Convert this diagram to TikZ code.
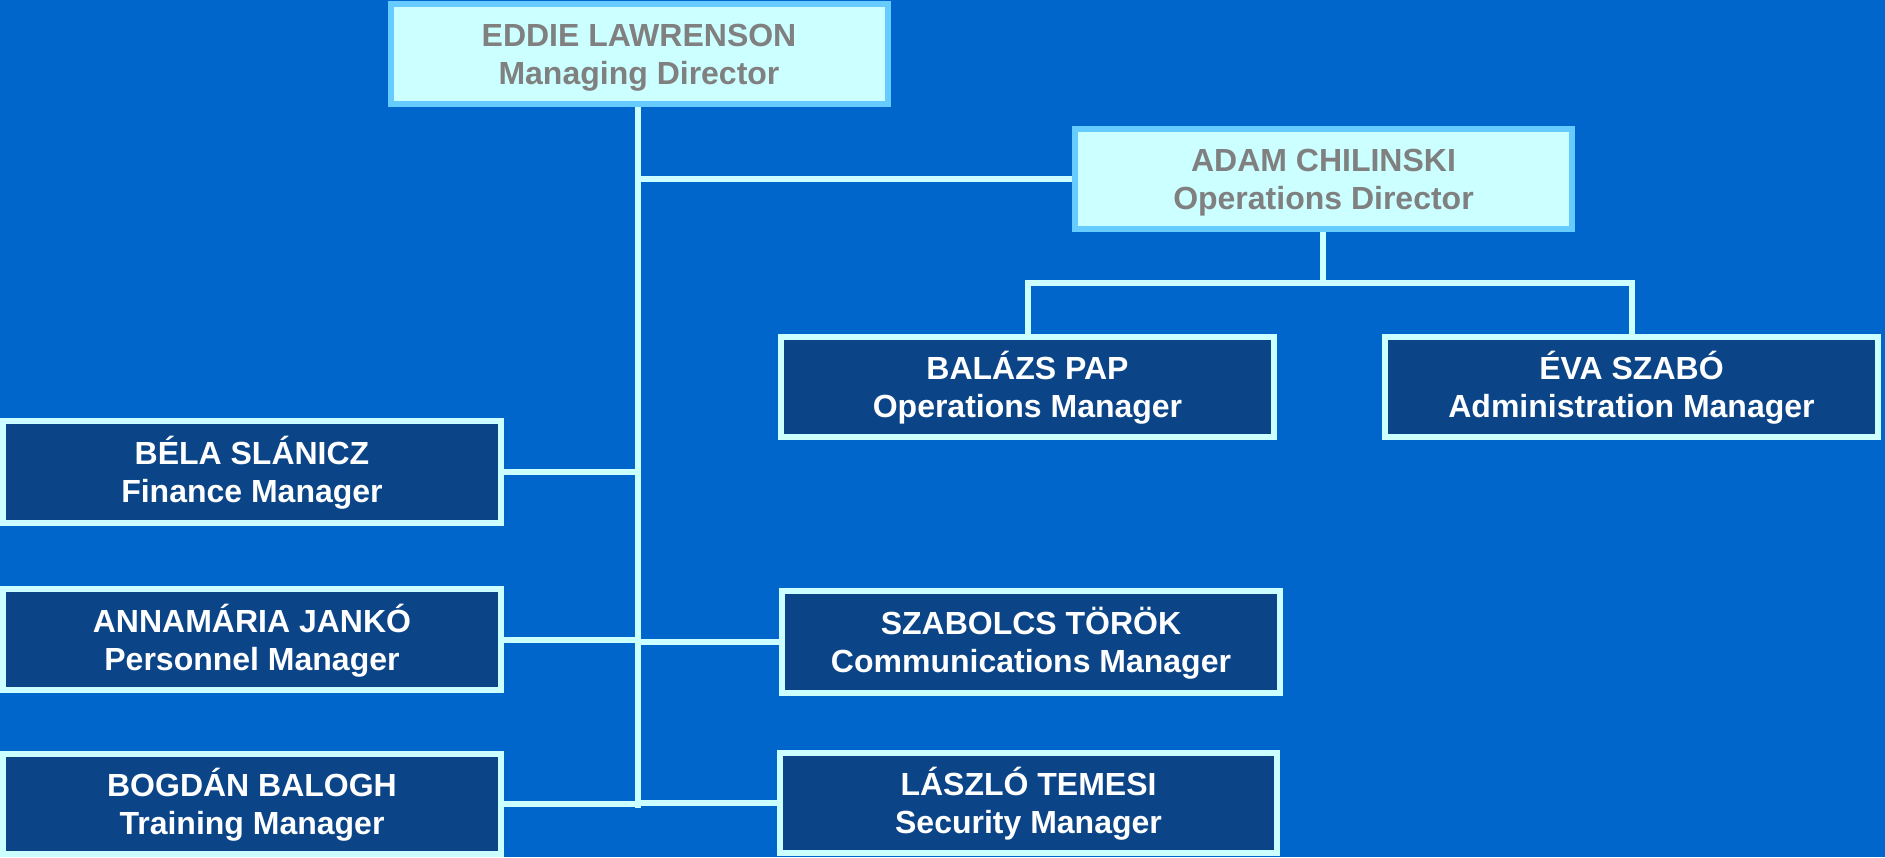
\documentclass[tikz,border=0pt]{standalone}
\usepackage{fontspec}
\setmainfont{Liberation Sans}
\usetikzlibrary{backgrounds}

\definecolor{pagebg}{RGB}{0,102,204}
\definecolor{navyfill}{RGB}{11,69,136}
\definecolor{paleaqua}{RGB}{204,255,255}
\definecolor{skyedge}{RGB}{102,204,255}
\definecolor{titlegray}{RGB}{128,128,128}

% two-line boxes: cap top of the first line to baseline of the second is centred
\tikzset{
  box/.style={rectangle, line width=6pt, align=center, inner sep=0pt,
    text height=61pt, text depth=0pt,
    font=\fontsize{32}{38}\selectfont\bfseries},
  director/.style={box, draw=skyedge, fill=paleaqua, text=titlegray,
    minimum width=497pt, minimum height=100pt},
  manager/.style={box, draw=paleaqua, fill=navyfill, text=white,
    minimum width=493pt, minimum height=100pt},
  link/.style={draw=paleaqua, line width=6pt, line cap=rect}
}

\begin{document}
\begin{tikzpicture}[x=1pt, y=-1pt]
\useasboundingbox (0,0) rectangle (1885,857);

% directors
\node[director] (eddie) at (639,53.5) {EDDIE LAWRENSON\\Managing Director};
\node[director] (adam) at (1323.5,179) {ADAM CHILINSKI\\Operations Director};

% managers under the operations director
\node[manager] (balazs) at (1027.5,386.5) {BALÁZS PAP\\Operations Manager};
\node[manager] (eva) at (1631.5,387) {ÉVA SZABÓ\\Administration Manager};

% managers on the left of the trunk
\node[manager, minimum width=498pt, minimum height=102pt] (bela) at (252,472) {BÉLA SLÁNICZ\\Finance Manager};
\node[manager, minimum width=498pt, minimum height=101pt] (anna) at (252,639.5) {ANNAMÁRIA JANKÓ\\Personnel Manager};
\node[manager, minimum width=498pt, minimum height=100pt] (bogdan) at (252,804) {BOGDÁN BALOGH\\Training Manager};

% managers on the right of the trunk
\node[manager, minimum width=498pt, minimum height=102pt] (szabolcs) at (1031,642) {SZABOLCS TÖRÖK\\Communications Manager};
\node[manager, minimum width=497pt, minimum height=100pt] (laszlo) at (1028.5,803) {LÁSZLÓ TEMESI\\Security Manager};

\coordinate (trunkend) at (638,805);
\coordinate (opsbus) at (1323,283);

\begin{scope}[on background layer]
  \fill[pagebg] (0,0) rectangle (1885,857);
  % main trunk
  \draw[link] (eddie.south -| trunkend) -- (trunkend);
  \draw[link] (adam.west) -- (adam.west -| trunkend);
  \draw[link] (bela.east) -- (bela.east -| trunkend);
  \draw[link] (anna.east) -- (anna.east -| trunkend);
  \draw[link] (bogdan.east) -- (bogdan.east -| trunkend);
  \draw[link] (szabolcs.west) -- (szabolcs.west -| trunkend);
  \draw[link] (laszlo.west) -- (laszlo.west -| trunkend);
  % operations branch
  \draw[link] (adam.south -| opsbus) -- (opsbus);
  \draw[link] (balazs.north) |- (opsbus) -| (eva.north);
\end{scope}
\end{tikzpicture}
\end{document}
